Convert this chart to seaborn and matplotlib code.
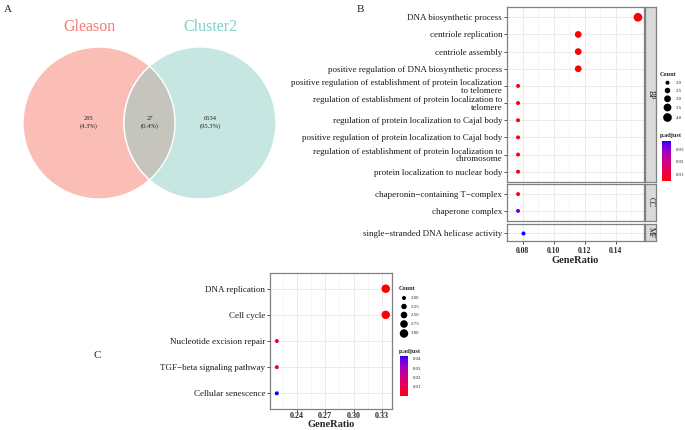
import numpy as np
import pandas as pd
import seaborn as sns
import matplotlib
matplotlib.use('Agg')
import matplotlib.pyplot as plt
from matplotlib.colors import ListedColormap, Normalize
from matplotlib.patches import Circle, Polygon
import matplotlib.colorbar as mcolorbar

# Venn counts (panel A)
venn_names = ['Gleason', 'Cluster2']
venn_only_a = 295
venn_both = 27
venn_only_b = 6534

# GO enrichment (panel B)
go_terms = [
    'DNA biosynthetic process',
    'centriole replication',
    'centriole assembly',
    'positive regulation of DNA biosynthetic process',
    'positive regulation of establishment of protein localization\nto telomere',
    'regulation of establishment of protein localization to\ntelomere',
    'regulation of protein localization to Cajal body',
    'positive regulation of protein localization to Cajal body',
    'regulation of establishment of protein localization to\nchromosome',
    'protein localization to nuclear body',
    'chaperonin\u2212containing T\u2212complex',
    'chaperone complex',
    'single\u2212stranded DNA helicase activity',
]
go_ont = ['BP'] * 10 + ['CC'] * 2 + ['MF']
go_ratio = [0.1542, 0.1158, 0.1158, 0.1158, 0.0771, 0.0771, 0.0771, 0.0771, 0.0771, 0.0771,
            0.0771, 0.0771, 0.0802]
go_count = [4, 3, 3, 3, 2, 2, 2, 2, 2, 2, 2, 2, 2]
go_padj = [0.0052, 0.0055, 0.0055, 0.0057, 0.0060, 0.0060, 0.0062, 0.0062, 0.0064, 0.0066,
           0.0070, 0.0330, 0.0365]

# KEGG enrichment (panel C)
kegg_terms = ['DNA replication', 'Cell cycle', 'Nucleotide excision repair',
              'TGF\u2212beta signaling pathway', 'Cellular senescence']
kegg_ratio = [0.334, 0.334, 0.219, 0.219, 0.219]
kegg_count = [3, 3, 2, 2, 2]
kegg_padj = [0.0006, 0.0009, 0.006, 0.013, 0.043]

go_df = pd.DataFrame({'Description': go_terms, 'ONTOLOGY': go_ont, 'GeneRatio': go_ratio,
                      'Count': go_count, 'p.adjust': go_padj})
kegg_df = pd.DataFrame({'Description': kegg_terms, 'GeneRatio': kegg_ratio,
                        'Count': kegg_count, 'p.adjust': kegg_padj})

sns.set_theme(style='white')
plt.rcParams['font.family'] = ['Liberation Serif', 'DejaVu Serif']
plt.rcParams['axes.unicode_minus'] = True

# red -> blue gradient interpolated in Lab (like ggplot)
M = np.array([[0.4124, 0.3576, 0.1805], [0.2126, 0.7152, 0.0722], [0.0193, 0.1192, 0.9505]])
WHITE = np.array([0.95047, 1.0, 1.08883])


def to_lab(rgb):
    c = np.asarray(rgb, float)
    lin = np.where(c <= 0.04045, c / 12.92, ((c + 0.055) / 1.055) ** 2.4)
    xyz = M @ lin / WHITE
    f = np.where(xyz > 0.008856, np.cbrt(xyz), 7.787 * xyz + 16 / 116)
    return np.array([116 * f[1] - 16, 500 * (f[0] - f[1]), 200 * (f[1] - f[2])])


def from_lab(lab):
    L, a, b = lab
    fy = (L + 16) / 116
    f = np.array([fy + a / 500, fy, fy - b / 200])
    xyz = np.where(f ** 3 > 0.008856, f ** 3, (f - 16 / 116) / 7.787) * WHITE
    lin = np.clip(np.linalg.solve(M, xyz), 0, 1)
    c = np.where(lin <= 0.0031308, 12.92 * lin, 1.055 * lin ** (1 / 2.4) - 0.055)
    return np.clip(c, 0, 1)


lab_r, lab_b = to_lab([1, 0, 0]), to_lab([0, 0, 1])
cmap = ListedColormap([from_lab(lab_r + t * (lab_b - lab_r)) for t in np.linspace(0, 1, 256)])

W, H = 685, 430
fig = plt.figure(figsize=(W / 100, H / 100), dpi=100)


def px_axes(x0, y0, x1, y1):
    return fig.add_axes([x0 / W, 1 - y1 / H, (x1 - x0) / W, (y1 - y0) / H])


def style_panel(ax):
    ax.set_facecolor('white')
    for s in ax.spines.values():
        s.set_visible(True)
        s.set_color('#808080')
        s.set_linewidth(0.9)
    ax.set_axisbelow(True)
    ax.grid(True, which='major', color='#EBEBEB', lw=0.7)
    ax.grid(True, which='minor', axis='x', color='#F2F2F2', lw=0.5)
    ax.tick_params(axis='y', length=2.5, width=0.6, color='#333333', labelsize=6.5,
                   pad=1, left=True, labelcolor='#1A1A1A')
    ax.tick_params(axis='x', length=2.5, width=0.6, color='#333333', labelsize=5.5,
                   pad=1.5, bottom=True)
    ax.set_xlabel('')
    ax.set_ylabel('')
    for t in ax.get_yticklabels():
        t.set_linespacing(0.95)


# ---------------- Panel A: Venn ----------------
vax = px_axes(0, 0, 300, 215)
vax.set_xlim(0, 300)
vax.set_ylim(215, 0)
vax.axis('off')
r = 76
ca, cb = (99, 123), (200, 123)
vax.add_patch(Circle(ca, r, facecolor='#FBBEB6', edgecolor='white', lw=1))
vax.add_patch(Circle(cb, r, facecolor='#C6E6E2', edgecolor='white', lw=1))
phi = np.arccos((cb[0] - ca[0]) / 2 / r)
t1 = np.linspace(-phi, phi, 60)
t2 = np.linspace(np.pi - phi, np.pi + phi, 60)
lens = np.vstack([np.c_[ca[0] + r * np.cos(t1), ca[1] + r * np.sin(t1)],
                  np.c_[cb[0] + r * np.cos(t2), cb[1] + r * np.sin(t2)]])
vax.add_patch(Polygon(lens, closed=True, facecolor='#C5C5BD', edgecolor='white', lw=1))
total = venn_only_a + venn_both + venn_only_b
for n, xx in zip([venn_only_a, venn_both, venn_only_b], [89, 149.5, 210.5]):
    vax.text(xx, 122.5, f'{n}\n({100 * n / total:.1f}%)', ha='center', va='center',
             fontsize=4.7, linespacing=1.3, color='#222222')
vax.text(89, 27, venn_names[0], ha='center', va='center', fontsize=11.5, color='#F47C70')
vax.text(210.5, 27, venn_names[1], ha='center', va='center', fontsize=11.5, color='#80CFC4')

fig.text(8 / W, 1 - 10 / H, 'A', fontsize=8, ha='center', va='center')
fig.text(360 / W, 1 - 10 / H, 'B', fontsize=8, ha='center', va='center')
fig.text(97 / W, 1 - 355 / H, 'C', fontsize=8, ha='center', va='center')

# ---------------- Panel B: GO dotplot ----------------
go_norm = (0.005, 0.0365)
go_sizes = (8.3, 39)
facets = [('BP', 7, 182), ('CC', 184, 221), ('MF', 224, 241)]
for i, (ont, y0, y1) in enumerate(facets):
    sub = go_df[go_df['ONTOLOGY'] == ont]
    ax = px_axes(507, y0, 644, y1)
    sns.scatterplot(data=sub, x='GeneRatio', y='Description', hue='p.adjust', size='Count',
                    palette=cmap, hue_norm=go_norm, sizes=go_sizes, size_norm=(2, 4),
                    linewidth=0, legend=False, ax=ax)
    ax.set_xlim(0.0732, 0.1581)
    ax.set_ylim(len(sub) - 0.4, -0.6)
    ax.set_xticks([0.08, 0.10, 0.12, 0.14])
    ax.set_xticks([0.07, 0.09, 0.11, 0.13, 0.15], minor=True)
    ax.set_xticklabels(['0.08', '0.10', '0.12', '0.14'], fontweight='bold')
    style_panel(ax)
    ax.tick_params(axis='x', which='minor', length=0)
    if i < 2:
        ax.tick_params(axis='x', labelbottom=False, length=0)
    else:
        ax.set_xlabel('GeneRatio', fontsize=7.5, fontweight='bold', labelpad=1)
    sax = px_axes(645, y0, 656, y1)
    sax.set_facecolor('#D9D9D9')
    sax.set_xticks([])
    sax.set_yticks([])
    for s in sax.spines.values():
        s.set_visible(True)
        s.set_color('#808080')
        s.set_linewidth(0.9)
    sax.text(0.5, 0.5, ont, rotation=-90, ha='center', va='center', fontsize=5.5,
             color='#1A1A1A', transform=sax.transAxes)

# B legends
lax = px_axes(655, 65, 685, 125)
lax.set_xlim(655, 685)
lax.set_ylim(125, 65)
lax.axis('off')
lax.text(660, 74, 'Count', fontsize=4.5, fontweight='bold', va='center')
b_leg_counts = [2.0, 2.5, 3.0, 3.5, 4.0]
b_leg_y = [82.7, 90.5, 98.8, 107.5, 117.5]
b_s = [go_sizes[0] + (c - 2) / 2 * (go_sizes[1] - go_sizes[0]) for c in b_leg_counts]
lax.scatter([667.5] * 5, b_leg_y, s=b_s, color='black', linewidth=0)
for c, yy in zip(b_leg_counts, b_leg_y):
    lax.text(675.5, yy, f'{c:.1f}', fontsize=3.5, va='center')
fig.text(660 / W, 1 - 136 / H, 'p.adjust', fontsize=4.5, fontweight='bold', va='center')
cax = px_axes(662, 141, 670.5, 181)
cb1 = mcolorbar.ColorbarBase(cax, cmap=cmap, norm=Normalize(*go_norm), ticks=[0.01, 0.02, 0.03])
cb1.outline.set_visible(False)
cb1.ax.tick_params(labelsize=3.5, length=2, color='white', width=0.5, pad=2)
cb1.ax.set_yticklabels(['0.01', '0.02', '0.03'])

# ---------------- Panel C: KEGG dotplot ----------------
kegg_norm = (0.0004, 0.0429)
kegg_sizes = (8.3, 37)
ax = px_axes(270, 273, 392, 409)
sns.scatterplot(data=kegg_df, x='GeneRatio', y='Description', hue='p.adjust', size='Count',
                palette=cmap, hue_norm=kegg_norm, sizes=kegg_sizes, size_norm=(2, 3),
                linewidth=0, legend=False, ax=ax)
ax.set_xlim(0.2118, 0.3406)
ax.set_ylim(len(kegg_df) - 0.4, -0.6)
ax.set_xticks([0.24, 0.27, 0.30, 0.33])
ax.set_xticks([0.225, 0.255, 0.285, 0.315], minor=True)
ax.set_xticklabels(['0.24', '0.27', '0.30', '0.33'], fontweight='bold')
style_panel(ax)
ax.tick_params(axis='x', which='minor', length=0)
ax.tick_params(axis='x', labelsize=5.8, pad=0.5, length=2)
ax.set_xlabel('GeneRatio', fontsize=7.5, fontweight='bold', labelpad=-0.5)

lax = px_axes(395, 282, 430, 340)
lax.set_xlim(395, 430)
lax.set_ylim(340, 282)
lax.axis('off')
lax.text(398.5, 289, 'Count', fontsize=4.5, fontweight='bold', va='center')
c_leg_counts = [2.00, 2.25, 2.50, 2.75, 3.00]
c_leg_y = [298, 306.5, 315, 324, 333.5]
c_s = [kegg_sizes[0] + (c - 2) * (kegg_sizes[1] - kegg_sizes[0]) for c in c_leg_counts]
lax.scatter([404] * 5, c_leg_y, s=c_s, color='black', linewidth=0)
for c, yy in zip(c_leg_counts, c_leg_y):
    lax.text(411, yy, f'{c:.2f}', fontsize=3.5, va='center')
fig.text(398.5 / W, 1 - 351 / H, 'p.adjust', fontsize=4.5, fontweight='bold', va='center')
cax = px_axes(400, 356, 407.5, 396)
cb2 = mcolorbar.ColorbarBase(cax, cmap=cmap, norm=Normalize(*kegg_norm),
                             ticks=[0.01, 0.02, 0.03, 0.04])
cb2.outline.set_visible(False)
cb2.ax.tick_params(labelsize=3.5, length=2, color='white', width=0.5, pad=2)
cb2.ax.set_yticklabels(['0.01', '0.02', '0.03', '0.04'])

fig.savefig('out.png', dpi=100, facecolor='white')
